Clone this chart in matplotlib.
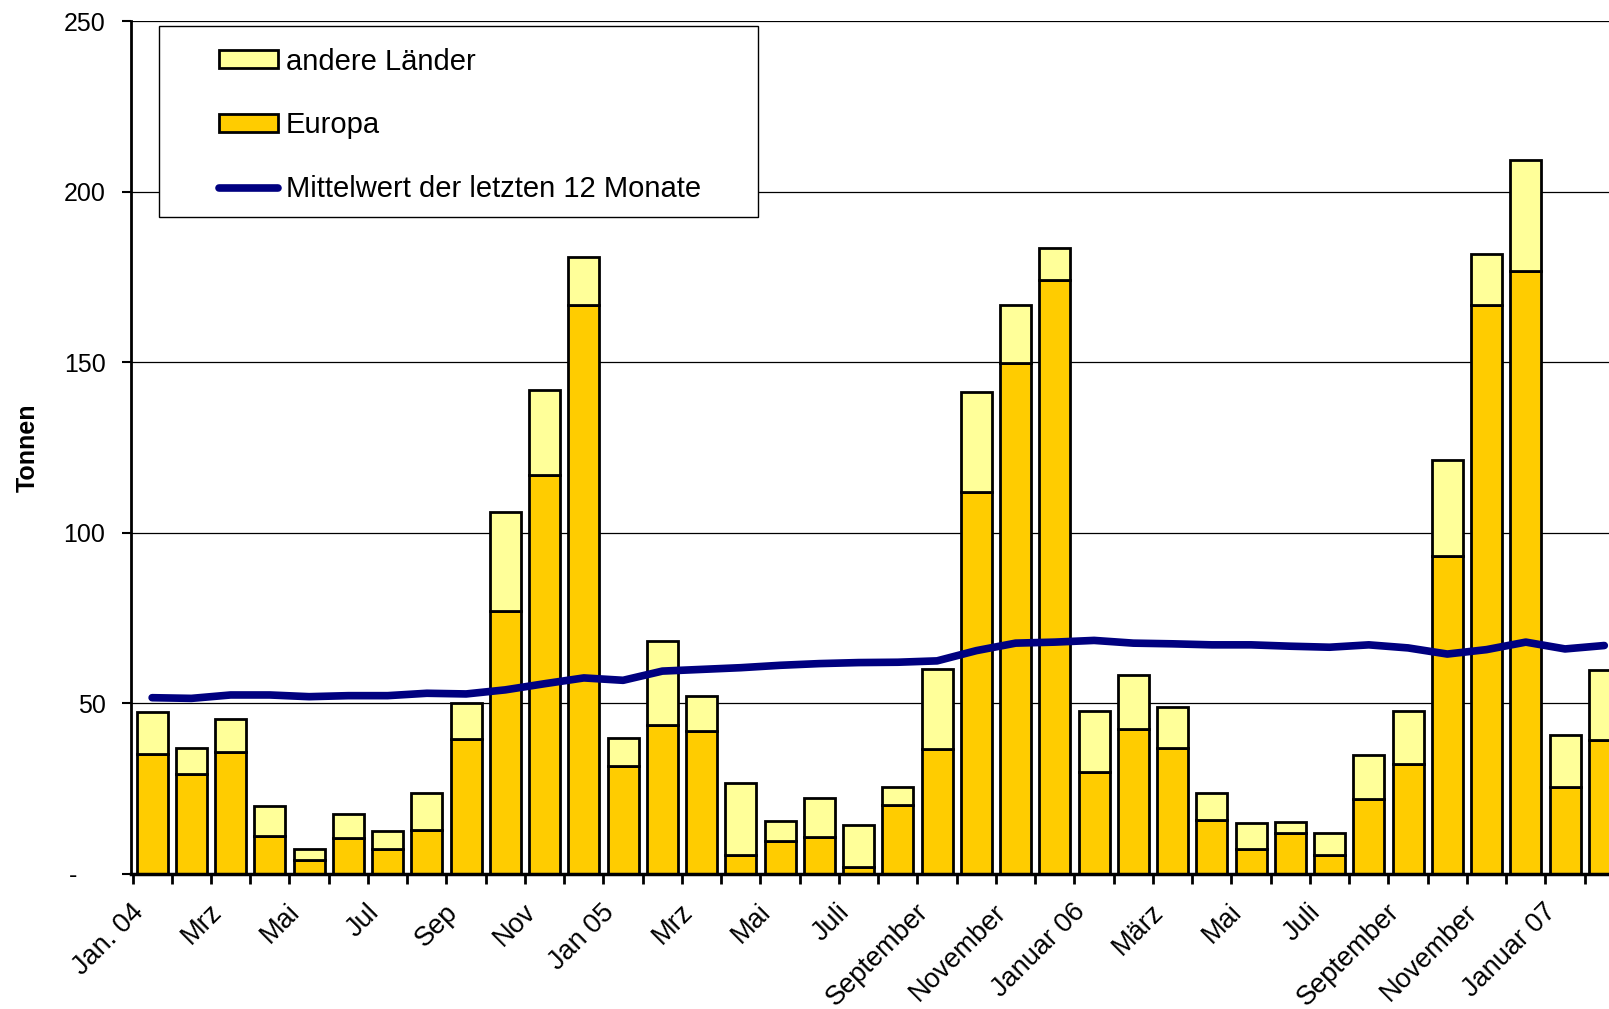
import matplotlib.pyplot as plt
import numpy as np
from matplotlib.lines import Line2D
from matplotlib.patches import Patch, Rectangle
from matplotlib.transforms import ScaledTranslation

plt.rcParams['font.family'] = ['Liberation Sans', 'DejaVu Sans']

# month labels (every second month is labelled)
labels = ['Jan. 04', 'Mrz', 'Mai', 'Jul', 'Sep', 'Nov',
          'Jan 05', 'Mrz', 'Mai', 'Juli', 'September', 'November',
          'Januar 06', 'März', 'Mai', 'Juli', 'September', 'November',
          'Januar 07']

europa = [35.2, 29.2, 35.8, 11.1, 4.2, 10.5, 7.2, 12.9, 39.7, 77.0, 117.0, 167.0,
          31.6, 43.6, 41.8, 5.7, 9.6, 10.8, 2.1, 20.2, 36.7, 111.9, 149.8, 174.2,
          29.8, 42.4, 37.0, 15.9, 7.2, 12.0, 5.7, 22.0, 32.2, 93.3, 167.0, 176.9,
          25.6, 39.4]
andere = [12.3, 7.8, 9.6, 8.8, 3.0, 7.2, 5.4, 10.9, 10.5, 29.2, 25.0, 13.8,
          8.4, 24.7, 10.5, 21.1, 6.0, 11.5, 12.3, 5.4, 23.5, 29.5, 17.2, 9.3,
          18.0, 16.0, 12.0, 7.9, 7.8, 3.3, 6.3, 12.9, 15.6, 28.2, 14.7, 32.5,
          15.3, 20.5]
mittel = [51.7, 51.5, 52.5, 52.5, 52.0, 52.3, 52.3, 53.0, 52.8, 54.0, 55.8, 57.5,
          56.8, 59.5, 60.0, 60.5, 61.2, 61.7, 62.0, 62.1, 62.5, 65.5, 67.7, 68.0,
          68.5, 67.7, 67.5, 67.2, 67.2, 66.8, 66.5, 67.2, 66.3, 64.5, 65.8, 68.0,
          66.0, 67.0]

c_eu = '#FFCC00'
c_and = '#FFFF99'
c_line = '#000080'

x = np.arange(len(europa))

fig = plt.figure(figsize=(16.09, 10.09), dpi=100)
ax = fig.add_axes([0.0815, 0.1338, 0.9185, 0.8449])

for y in (50, 100, 150, 200, 250):
  ax.axhline(y, color='black', lw=0.9, zorder=1)

ax.bar(x, europa, width=0.79, color=c_eu, edgecolor='black', lw=2, zorder=2)
ax.bar(x, andere, width=0.79, bottom=europa, color=c_and, edgecolor='black', lw=2, zorder=2)
ax.plot(x, mittel, color=c_line, lw=5.5, solid_capstyle='round', solid_joinstyle='round', zorder=3)

ax.set_xlim(-0.535, 37.12)
ax.set_ylim(0, 250)

for s in ('top', 'right'):
  ax.spines[s].set_visible(False)
ax.spines['left'].set_linewidth(2)
ax.spines['bottom'].set_linewidth(2.5)

ax.set_yticks([0, 50, 100, 150, 200, 250])
ax.set_yticklabels(['-    ', '50', '100', '150', '200', '250'], fontsize=18)
ax.tick_params(axis='y', direction='out', length=6.5, width=1.5, pad=12)

ax.set_xticks(np.arange(-0.5, 37.5, 1.0))
ax.set_xticklabels([])
ax.tick_params(axis='x', which='major', direction='out', length=7.5, width=2)
ax.set_xticks(x[::2], minor=True)
ax.set_xticklabels(labels, minor=True, rotation=45, ha='right', rotation_mode='anchor', fontsize=19.5)
ax.tick_params(axis='x', which='minor', length=0, pad=18)
shift = ScaledTranslation(-22 / 100, 0, fig.dpi_scale_trans)
for t in ax.get_xticklabels(minor=True):
  t.set_transform(t.get_transform() + shift)

ax.set_ylabel('Tonnen', fontsize=18, fontweight='bold')
ax.yaxis.set_label_coords(-0.062, 0.5)

# legend with its own frame box
handles = [Patch(facecolor=c_and, edgecolor='black', lw=2),
           Patch(facecolor=c_eu, edgecolor='black', lw=2),
           Line2D([0], [0], color=c_line, lw=5.5, solid_capstyle='round')]
names = ['andere Länder', 'Europa', 'Mittelwert der letzten 12 Monate']
fig.patches.append(Rectangle((159 / 1609, 1 - 217 / 1009), 599 / 1609, 191 / 1009,
                             transform=fig.transFigure, facecolor='white',
                             edgecolor='black', lw=1, zorder=4))
leg = fig.legend(handles, names, loc='upper left', bbox_to_anchor=(204 / 1609, 1 - 33 / 1009),
                 frameon=False, fontsize=21, borderpad=0, handlelength=2.05,
                 handleheight=0.55, handletextpad=0.25, labelspacing=1.23)
leg.set_zorder(5)

fig.savefig('out.png', dpi=100)
